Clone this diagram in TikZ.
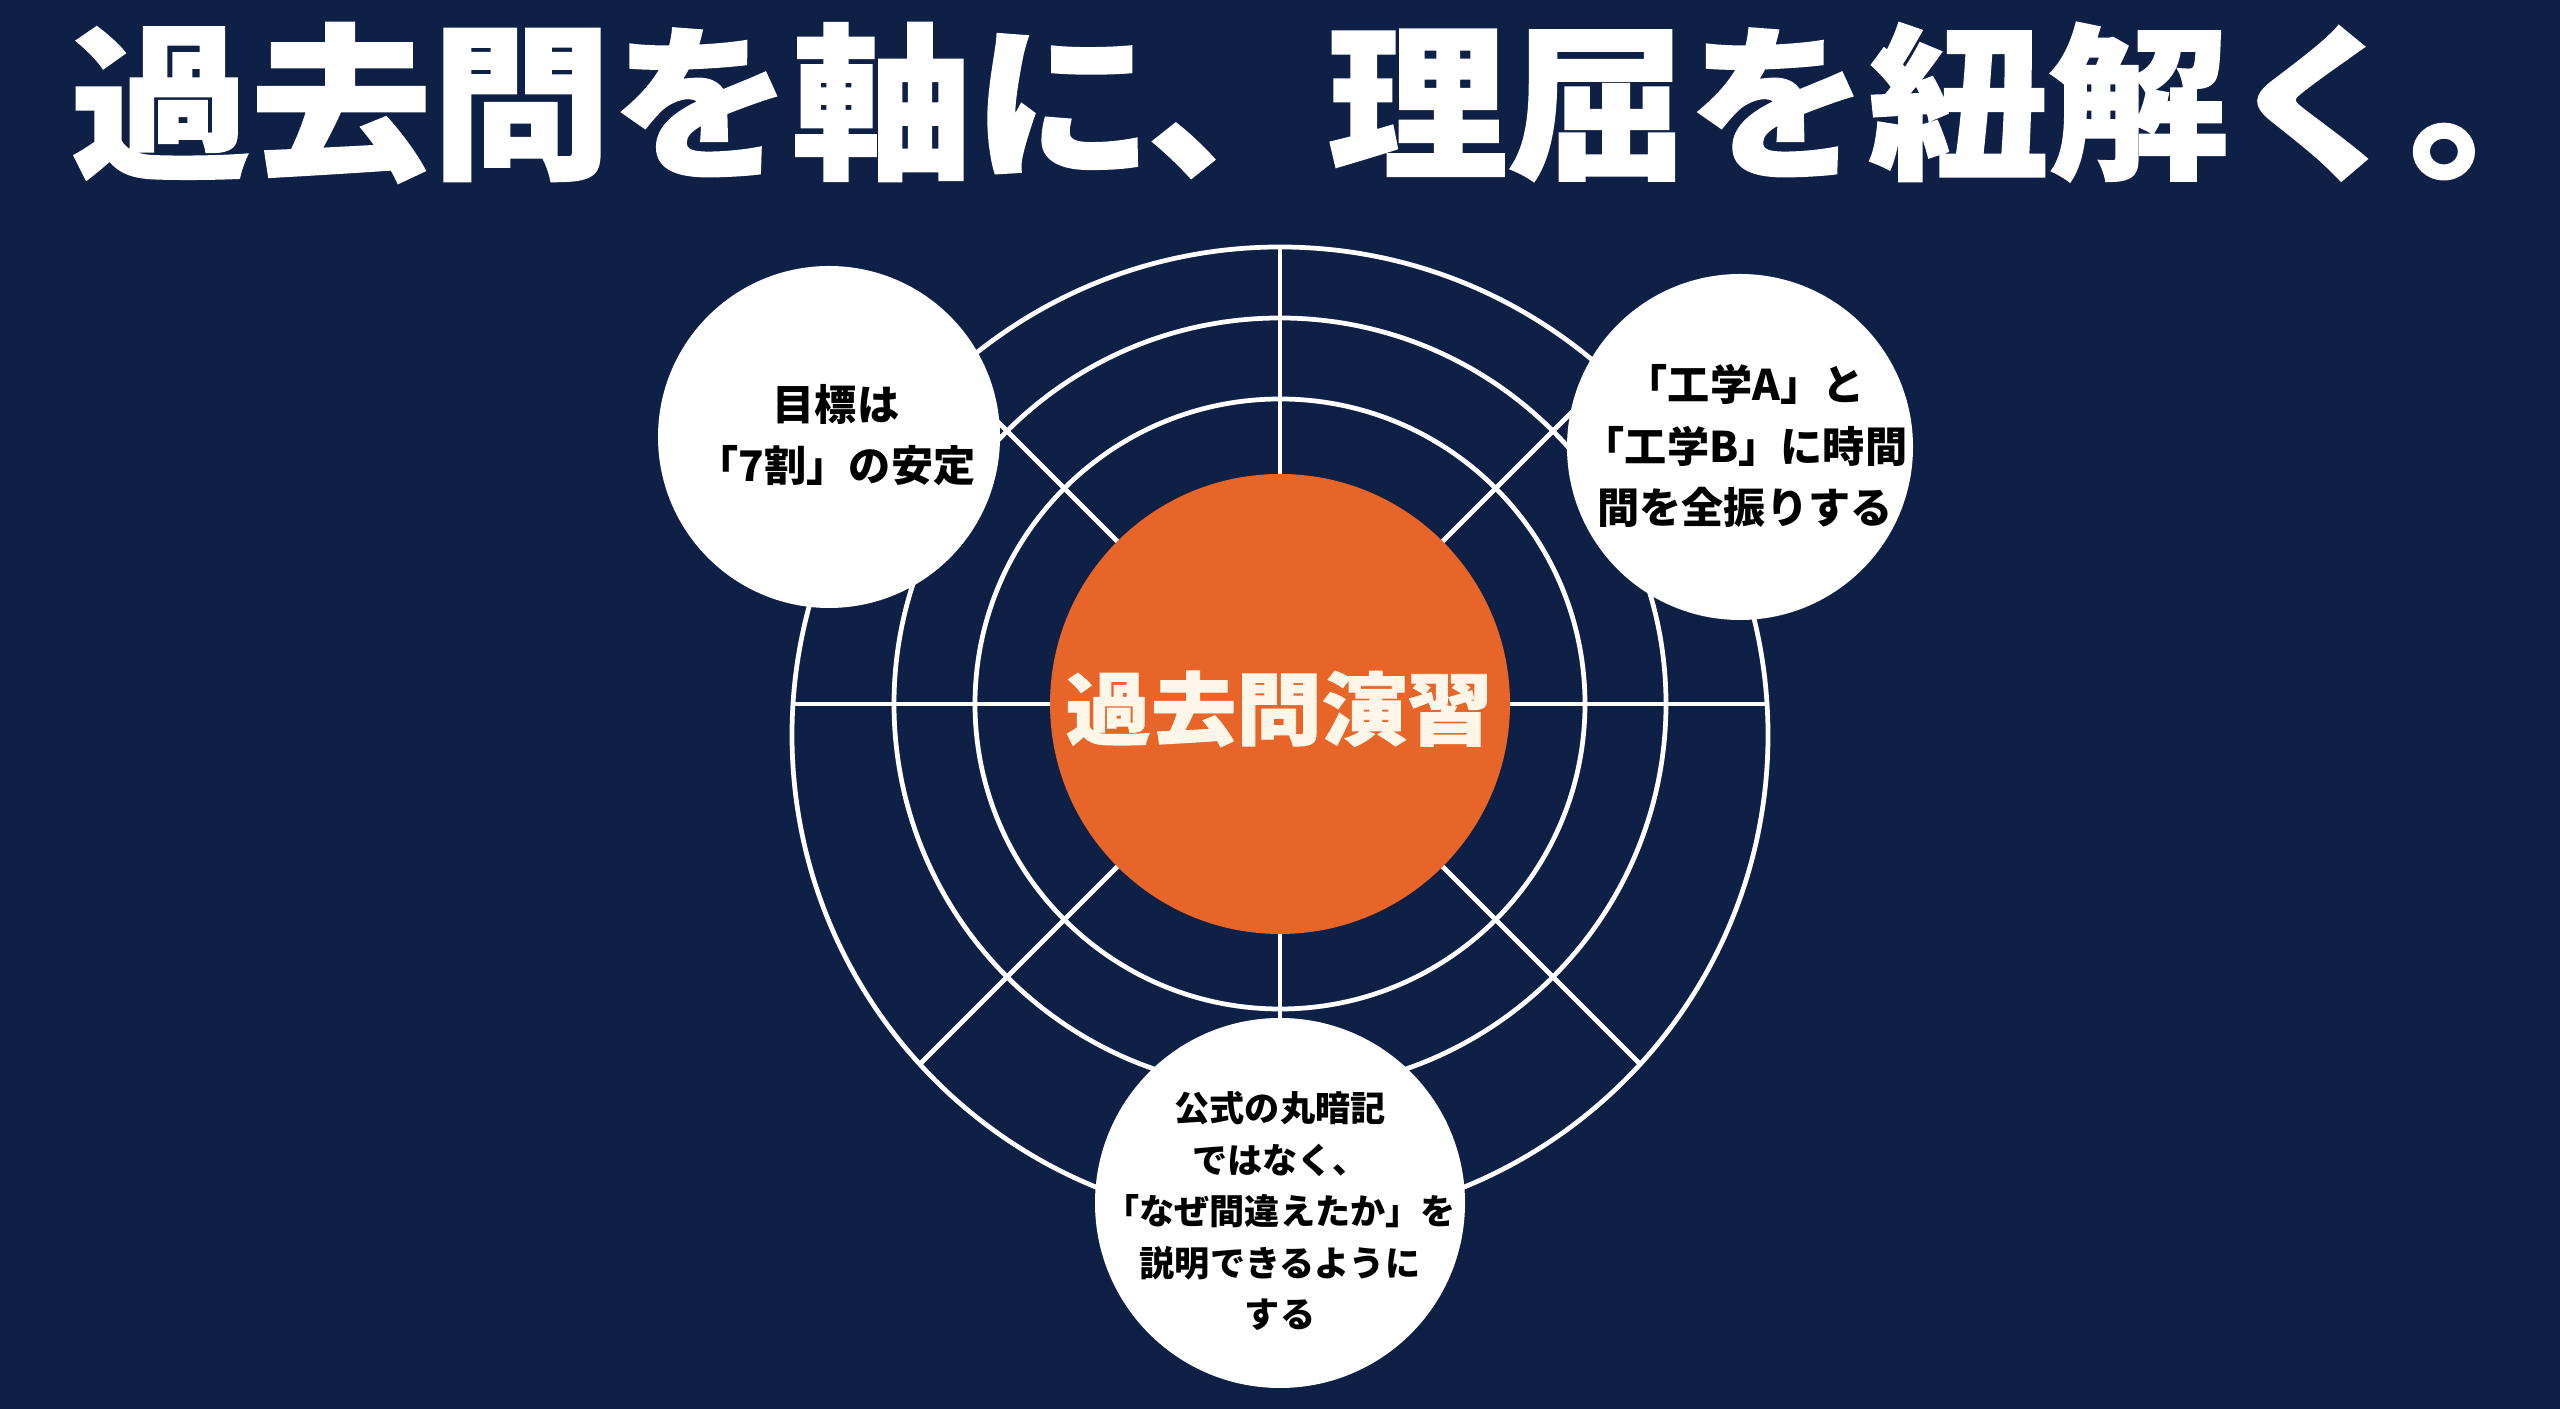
\documentclass[tikz,border=0pt]{standalone}
\usepackage{fontspec}
\newfontfamily\jpfont{Noto Sans CJK JP}
\newfontfamily\jpheavy{Noto Sans CJK JP}[FakeStretch=1.08, BoldFeatures={FakeBold=1.2}]
\definecolor{navy}{RGB}{14,32,70}
\definecolor{hubfill}{RGB}{232,101,42}
\definecolor{hubtext}{RGB}{255,246,234}
\tikzset{
  ring/.style={draw=white, line width=1.35pt},
  spoke/.style={draw=white, line width=1.35pt},
  bubble/.style={circle, fill=white, inner sep=0pt},
  bubbletext/.style={align=center, text=black, font=\jpfont\bfseries\fontsize{12pt}{17.4pt}\selectfont},
}
\begin{document}
\begin{tikzpicture}
    \fill[navy] (0,0) rectangle (25.6,14.09);
    \useasboundingbox (0,0) rectangle (25.6,14.09);
    \node[text=white, inner sep=0pt, text height=41.8pt, text depth=5.7pt, font=\jpheavy\bfseries\fontsize{47.5pt}{60pt}\selectfont] (title) at (13.30,13.07) {過去問を軸に、理屈を紐解く。};
    \coordinate (c) at (12.80,7.05);
    % rings
    \draw[ring] (12.80,6.74) circle (4.88);
    \draw[ring] (c) circle (3.86);
    \draw[ring] (c) circle (3.05);
    % spokes, cut at the outer ring
    \foreach \a/\r in {0/4.87, 45/4.66, 90/4.57, 135/4.66, 180/4.87, 225/5.09, 270/5.19, 315/5.09}
        \draw[spoke] (c) -- ++(\a:\r);
    \node[circle, fill=hubfill, minimum size=4.6cm, inner sep=0pt] (hub) at (c) {};
    \node[text=hubtext, font=\jpheavy\bfseries\fontsize{22.5pt}{28pt}\selectfont] (hubtext) at (12.79,7.00) {過去問演習};
    % bubbles
    \node[bubble, minimum size=3.42cm] (goal) at (8.29,9.72) {};
    \node[bubbletext] (goaltext) at (8.36,9.74) {目標は\\「7割」の安定};
    \node[bubble, minimum size=3.46cm] (focus) at (17.40,9.62) {};
    \node[bubbletext] (focustext) at (17.45,9.63) {「工学A」と\\「工学B」に時間\\間を全振りする};
    \node[bubble, minimum size=3.7cm] (method) at (12.80,2.06) {};
    \node[bubbletext, font=\jpfont\bfseries\fontsize{10pt}{14.65pt}\selectfont] (methodtext) at (12.80,1.98) {公式の丸暗記\\ではなく、\\「なぜ間違えたか」を\\説明できるように\\する};
\end{tikzpicture}
\end{document}
